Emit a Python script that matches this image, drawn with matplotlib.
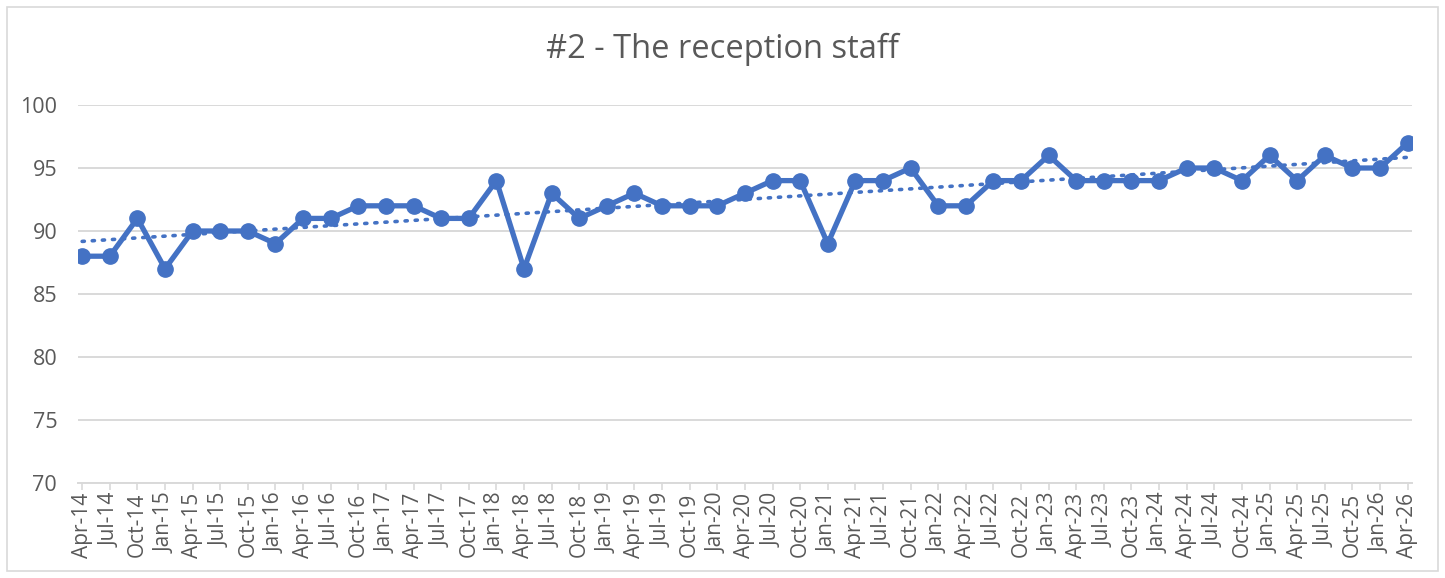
import numpy as np
import matplotlib.pyplot as plt
from matplotlib.patches import Rectangle

# quarterly survey scores, Apr-14 .. Apr-26
quarters = [
    "Apr-14", "Jul-14", "Oct-14", "Jan-15", "Apr-15", "Jul-15", "Oct-15",
    "Jan-16", "Apr-16", "Jul-16", "Oct-16", "Jan-17", "Apr-17", "Jul-17",
    "Oct-17", "Jan-18", "Apr-18", "Jul-18", "Oct-18", "Jan-19", "Apr-19",
    "Jul-19", "Oct-19", "Jan-20", "Apr-20", "Jul-20", "Oct-20", "Jan-21",
    "Apr-21", "Jul-21", "Oct-21", "Jan-22", "Apr-22", "Jul-22", "Oct-22",
    "Jan-23", "Apr-23", "Jul-23", "Oct-23", "Jan-24", "Apr-24", "Jul-24",
    "Oct-24", "Jan-25", "Apr-25", "Jul-25", "Oct-25", "Jan-26", "Apr-26",
]
scores = [
    88, 88, 91, 87, 90, 90, 90,
    89, 91, 91, 92, 92, 92, 91,
    91, 94, 87, 93, 91, 92, 93,
    92, 92, 92, 93, 94, 94, 89,
    94, 94, 95, 92, 92, 94, 94,
    96, 94, 94, 94, 94, 95, 95,
    94, 96, 94, 96, 95, 95, 97,
]
y_ticks = [70, 75, 80, 85, 90, 95, 100]

blue = "#4472C4"
grey_text = "#595959"
grid_col = "#D9D9D9"

plt.rcParams['font.family'] = ['Open Sans', 'DejaVu Sans']

fig = plt.figure(figsize=(14.45, 5.78), dpi=100)
ax = fig.add_axes([0.054, 0.1644, 0.923, 0.6539])

x = np.arange(len(scores))

# linear trendline like Excel's
coef = np.polyfit(x, scores, 1)
ax.plot(x, np.polyval(coef, x), linestyle=(0, (0.6, 2.2)), color=blue,
        linewidth=2.6, dash_capstyle='round', zorder=2)

ax.plot(x, scores, color=blue, linewidth=3.8, marker='o', markersize=11,
        zorder=3)

ax.set_xlim(-0.15, len(scores) - 1 + 0.15)
ax.set_ylim(70, 100)
ax.set_yticks(y_ticks)
ax.set_xticks(x)
ax.set_xticklabels(quarters, rotation=90, fontsize=15, color=grey_text)
ax.tick_params(axis='y', length=0, labelsize=15.5, labelcolor=grey_text, pad=15)
ax.tick_params(axis='x', length=5, color=grid_col, width=1.2, pad=2)

ax.grid(axis='y', color=grid_col, linewidth=1.4)
ax.set_axisbelow(True)
for side in ['top', 'right', 'left']:
    ax.spines[side].set_visible(False)
ax.spines['bottom'].set_color(grid_col)
ax.spines['bottom'].set_linewidth(1.4)

fig.text(0.5, 0.915, "#2 - The reception staff", ha='center', va='center',
         fontsize=23.5, color=grey_text)

# chart border
fig.patches.append(Rectangle((0.005, 0.012), 0.99, 0.976,
                             transform=fig.transFigure, fill=False,
                             edgecolor=grid_col, linewidth=1.2))

fig.savefig("out.png", dpi=100)
